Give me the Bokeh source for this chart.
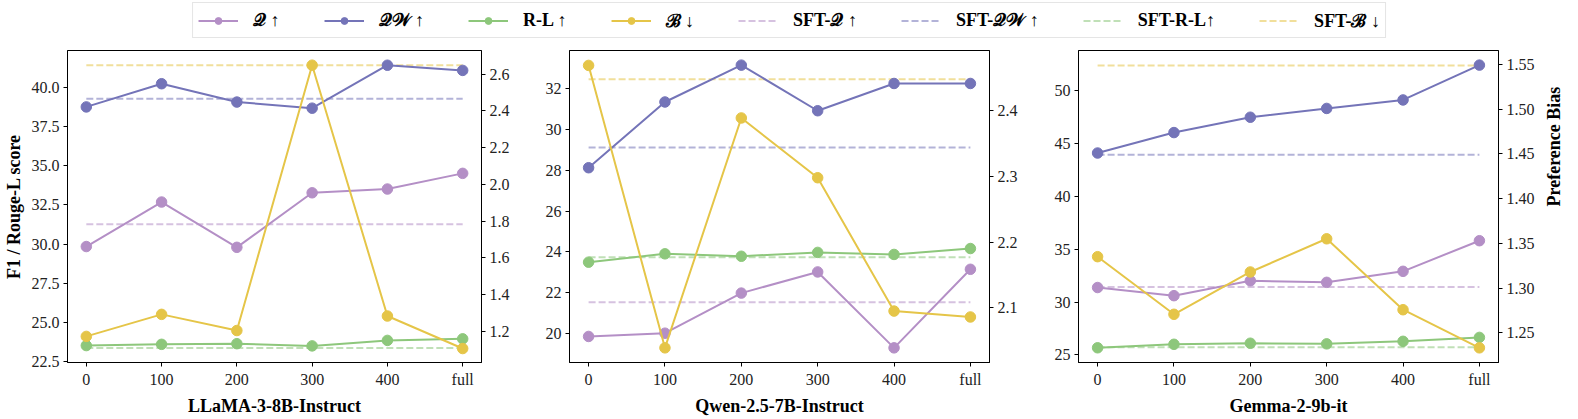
import math
from bokeh.plotting import figure
from bokeh.models import Range1d, LinearAxis, FixedTicker, Legend, LegendItem, ColumnDataSource
from bokeh.layouts import column, row
from bokeh.embed import file_html
from bokeh.resources import INLINE

categories = ["0", "100", "200", "300", "400", "full"]

# LLaMA-3-8B-Instruct
llama_q = [29.84, 32.68, 29.79, 33.27, 33.51, 34.51]
llama_qw = [38.75, 40.23, 39.06, 38.67, 41.41, 41.08]
llama_rl = [23.52, 23.60, 23.64, 23.50, 23.85, 23.95]
llama_b = [1.172, 1.292, 1.204, 2.648, 1.283, 1.106]
llama_sft_q, llama_sft_qw, llama_sft_rl, llama_sft_b = 31.27, 39.27, 23.37, 2.648

# Qwen-2.5-7B-Instruct
qwen_q = [19.84, 20.00, 21.97, 23.01, 19.28, 23.14]
qwen_qw = [28.13, 31.36, 33.17, 30.93, 32.27, 32.27]
qwen_rl = [23.49, 23.90, 23.78, 23.97, 23.87, 24.16]
qwen_b = [2.469, 2.039, 2.389, 2.298, 2.095, 2.086]
qwen_sft_q, qwen_sft_qw, qwen_sft_rl, qwen_sft_b = 21.52, 29.12, 23.73, 2.448

# Gemma-2-9b-it
gemma_q = [31.37, 30.60, 32.01, 31.86, 32.90, 35.79]
gemma_qw = [44.07, 46.00, 47.45, 48.28, 49.08, 52.37]
gemma_rl = [25.68, 26.01, 26.11, 26.05, 26.29, 26.66]
gemma_b = [1.3352, 1.2708, 1.3181, 1.3552, 1.2759, 1.2333]
gemma_sft_q, gemma_sft_qw, gemma_sft_rl, gemma_sft_b = 31.43, 43.91, 25.74, 1.549

# tick labels
llama_left_ticks = [22.5, 25.0, 27.5, 30.0, 32.5, 35.0, 37.5, 40.0]
llama_right_ticks = [1.2, 1.4, 1.6, 1.8, 2.0, 2.2, 2.4, 2.6]
qwen_left_ticks = [20, 22, 24, 26, 28, 30, 32]
qwen_right_ticks = [2.1, 2.2, 2.3, 2.4]
gemma_left_ticks = [25, 30, 35, 40, 45, 50]
gemma_right_ticks = [1.25, 1.30, 1.35, 1.40, 1.45, 1.50, 1.55]

C_Q = "#b48fc6"
C_QW = "#7474b8"
C_RL = "#8dc77b"
C_B = "#e5c548"
FONT = "Liberation Serif"
TXT = "#222222"

panels = [
    dict(name="LLaMA-3-8B-Instruct", q=llama_q, qw=llama_qw, rl=llama_rl, b=llama_b,
         sq=llama_sft_q, sqw=llama_sft_qw, srl=llama_sft_rl, sb=llama_sft_b,
         lt=llama_left_ticks, rt=llama_right_ticks, lfmt="%.1f", rfmt="%.1f",
         yl=(22.44, 42.35), yr=(1.030, 2.728),
         width=525, bl=62, br=44, ylabel="F1 / Rouge-L score", rlabel=None),
    dict(name="Qwen-2.5-7B-Instruct", q=qwen_q, qw=qwen_qw, rl=qwen_rl, b=qwen_b,
         sq=qwen_sft_q, sqw=qwen_sft_qw, srl=qwen_sft_rl, sb=qwen_sft_b,
         lt=qwen_left_ticks, rt=qwen_right_ticks, lfmt="%d", rfmt="%.1f",
         yl=(18.56, 33.89), yr=(2.0167, 2.4917),
         width=513, bl=44, br=49, ylabel=None, rlabel=None),
    dict(name="Gemma-2-9b-it", q=gemma_q, qw=gemma_qw, rl=gemma_rl, b=gemma_b,
         sq=gemma_sft_q, sqw=gemma_sft_qw, srl=gemma_sft_rl, sb=gemma_sft_b,
         lt=gemma_left_ticks, rt=gemma_right_ticks, lfmt="%d", rfmt="%.2f",
         yl=(24.29, 53.75), yr=(1.2169, 1.5657),
         width=540, bl=40, br=80, ylabel=None, rlabel="Preference Bias"),
]


def style_axis(ax):
    ax.axis_line_color = "black"
    ax.major_tick_line_color = "black"
    ax.major_tick_in = 0
    ax.major_tick_out = 4
    ax.minor_tick_line_color = None
    ax.major_label_text_font = FONT
    ax.major_label_text_font_size = "16px"
    ax.major_label_text_color = TXT
    ax.major_label_standoff = 4
    ax.axis_label_text_font = FONT
    ax.axis_label_text_font_size = "18px"
    ax.axis_label_text_font_style = "bold"
    ax.axis_label_text_color = "black"
    ax.axis_label_standoff = 5


xs = list(range(len(categories)))
figs = []
for pn in panels:
    p = figure(width=pn["width"], height=378, output_backend="svg", toolbar_location=None,
               x_range=Range1d(-0.25, len(categories) - 0.75), y_range=Range1d(*pn["yl"]),
               min_border_left=pn["bl"], min_border_right=pn["br"], min_border_top=10,
               min_border_bottom=49)
    p.extra_y_ranges = {"pb": Range1d(*pn["yr"])}
    p.grid.visible = False
    p.outline_line_color = "black"
    p.outline_line_width = 1
    p.background_fill_color = "white"
    p.border_fill_color = "white"

    p.xaxis.ticker = FixedTicker(ticks=xs)
    p.xaxis.major_label_overrides = {i: c for i, c in enumerate(categories)}
    p.xaxis.axis_label = pn["name"]
    p.yaxis.ticker = FixedTicker(ticks=pn["lt"])
    p.yaxis.major_label_overrides = {t: pn["lfmt"] % t for t in pn["lt"]}
    if pn["ylabel"]:
        p.yaxis.axis_label = pn["ylabel"]
    rax = LinearAxis(y_range_name="pb", ticker=FixedTicker(ticks=pn["rt"]))
    rax.major_label_overrides = {t: pn["rfmt"] % t for t in pn["rt"]}
    p.add_layout(rax, "right")
    for ax in p.xaxis + p.yaxis + [rax]:
        style_axis(ax)
    if pn["rlabel"]:
        rax.axis_label = pn["rlabel"]
        rax.axis_label_orientation = math.pi / 2
        rax.axis_label_standoff = 16

    ends = [xs[0], xs[-1]]
    # SFT baselines (dashed)
    p.line(ends, [pn["sq"]] * 2, line_color=C_Q, line_alpha=0.55, line_width=2, line_dash="7 3")
    p.line(ends, [pn["sqw"]] * 2, line_color=C_QW, line_alpha=0.55, line_width=2, line_dash="7 3")
    p.line(ends, [pn["srl"]] * 2, line_color=C_RL, line_alpha=0.55, line_width=2, line_dash="7 3")
    p.line(ends, [pn["sb"]] * 2, line_color=C_B, line_alpha=0.55, line_width=2, line_dash="7 3",
           y_range_name="pb")
    # series
    for key, col in (("q", C_Q), ("qw", C_QW), ("rl", C_RL)):
        src = ColumnDataSource(dict(x=xs, y=pn[key]))
        p.line("x", "y", source=src, line_color=col, line_width=2)
        p.scatter("x", "y", source=src, size=10.5, fill_color=col, line_color=col)
    srcb = ColumnDataSource(dict(x=xs, y=pn["b"]))
    p.line("x", "y", source=srcb, line_color=C_B, line_width=2, y_range_name="pb")
    p.scatter("x", "y", source=srcb, size=10.5, fill_color=C_B, line_color=C_B, y_range_name="pb")
    figs.append(p)

# legend strip (proxy renderers hold a single NaN point so nothing is drawn)
lg = figure(width=1578, height=40, output_backend="svg", toolbar_location=None,
            x_axis_type=None, y_axis_type=None, x_range=Range1d(0, 1), y_range=Range1d(0, 1),
            min_border=0)
lg.grid.visible = False
lg.outline_line_color = None
nan = float("nan")
items = []
for lab, col in (("𝒬 ↑", C_Q), ("𝒬𝒲 ↑", C_QW), ("R-L ↑", C_RL), ("ℬ ↓", C_B)):
    s = ColumnDataSource(dict(x=[nan], y=[nan]))
    r1 = lg.line("x", "y", source=s, line_color=col, line_width=2)
    r2 = lg.scatter("x", "y", source=s, size=10, fill_color=col, line_color=col)
    items.append(LegendItem(label=lab, renderers=[r1, r2]))
for lab, col in (("SFT-𝒬 ↑", C_Q), ("SFT-𝒬𝒲 ↑", C_QW), ("SFT-R-L↑", C_RL), ("SFT-ℬ ↓", C_B)):
    s = ColumnDataSource(dict(x=[nan], y=[nan]))
    r = lg.line("x", "y", source=s, line_color=col, line_alpha=0.55, line_width=2, line_dash="7 3")
    items.append(LegendItem(label=lab, renderers=[r]))
legend = Legend(items=items, orientation="horizontal", location="top_center",
                glyph_width=40, glyph_height=17, label_standoff=15, spacing=44,
                padding=5, margin=2, border_line_color="#cccccc", border_line_width=1,
                label_text_font=FONT, label_text_font_size="18px", label_text_font_style="bold",
                label_text_color="black", background_fill_alpha=1)
lg.add_layout(legend, "center")

layout = column(lg, row(*figs))
open("out.html", "w").write(file_html(layout, INLINE))
